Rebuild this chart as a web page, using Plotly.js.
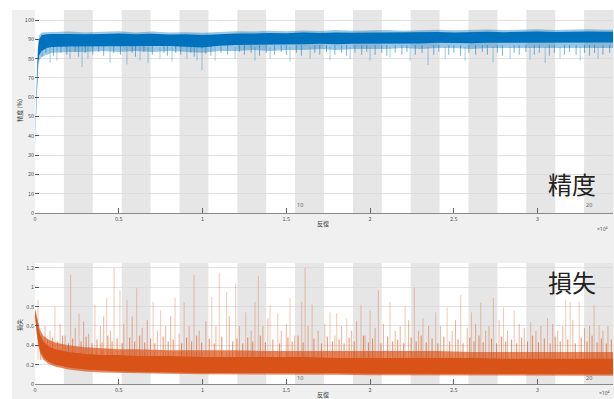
<!DOCTYPE html>
<html>
<head>
<meta charset="utf-8">
<script src="https://cdn.plot.ly/plotly-3.0.1.min.js"></script>
<style>html,body{margin:0;padding:0;background:#fff;width:614px;height:399px;overflow:hidden;}
#chart{position:absolute;left:12px;top:10px;width:602px;height:389px;}</style>
</head>
<body>
<div id="chart"></div>
<script>
// ---- data ----
const numEpochs = 20;
const itersPerEpoch = 1725;
const xTickVals = [0, 5000, 10000, 15000, 20000, 25000, 30000];
const xTickText = ['0', '0.5', '1', '1.5', '2', '2.5', '3'];
const epochLabels = [10, 20];

// accuracy (%) envelopes
const accIt     = [0, 60, 120, 180, 250, 400, 700, 1000, 2000, 3000, 4000, 5000, 6000, 7000, 8000, 9000, 10000, 11000, 12000, 13000, 14000, 15000, 16000, 17000, 18000, 19000, 20000, 21000, 22000, 23000, 24000, 25000, 26000, 27000, 28000, 29000, 30000, 31000, 32000, 33000, 34000, 34500];
const accOuterHi= [36, 60, 78, 88, 92, 93.5, 93.5, 93.8, 94, 93.6, 93.9, 94.2, 93.6, 94, 93.5, 93.7, 93.4, 93.8, 94.2, 94, 94.5, 94.2, 94.6, 94.3, 94.8, 94.5, 94.6, 94.9, 94.5, 94.8, 95, 94.7, 94.9, 95.1, 94.8, 95, 95.2, 94.9, 95.1, 95.2, 95, 95];
const accOuterLo= [35, 48, 64, 74, 79, 81, 82, 83, 83.5, 83.5, 84, 83.5, 84, 83.5, 84, 83.5, 83, 84, 84, 84.5, 84, 84.5, 84.5, 85, 84.5, 85, 85, 85, 85.5, 85, 85.5, 85.5, 85, 85.5, 85.5, 85.5, 85.5, 85.5, 85.5, 85.5, 85.5, 85.5];
const accCoreHi = [35.5, 57, 74, 85, 90, 92.3, 92.6, 92.8, 92.8, 92.6, 92.8, 93, 92.6, 92.9, 92.5, 92.6, 92.3, 92.8, 93, 93, 93.3, 93.1, 93.5, 93.3, 93.6, 93.4, 93.5, 93.7, 93.5, 93.7, 93.8, 93.6, 93.8, 93.9, 93.7, 93.9, 94, 93.8, 94, 94.1, 93.9, 93.9];
const accCoreLo = [35, 50, 66, 77, 82, 84, 85.5, 86, 86.3, 86.3, 86.5, 86.5, 86.5, 86.5, 86.5, 86.2, 85.8, 86.7, 87, 87.2, 87.2, 87.4, 87.4, 87.7, 87.5, 87.7, 87.7, 87.9, 87.9, 87.9, 88.2, 88.2, 88, 88.2, 88.2, 88.2, 88.4, 88.2, 88.4, 88.4, 88.4, 88.4];
const accDips = [[420,80.8],[900,77.7],[1310,79],[2090,80],[2810,75.6],[3160,80],[4480,77.7],[5490,77],[6270,79],[6750,77.7],[7460,80],[8180,78.5],[9070,80],[9670,79],[9970,74],[10750,79],[11940,80],[13130,79],[14030,80],[15220,78.5],[16420,80],[17610,79],[18810,80],[20000,79],[21190,80.5],[22390,79],[23460,76.7],[24480,80],[25670,79],[27340,78],[28360,80],[29550,79.5],[30450,77.7],[31340,80],[32540,79],[33610,80]];
const accShortDips = [[250,82],[650,83],[1100,81.5],[1550,83],[1900,82],[2400,83.5],[2600,81],[3000,83],[3450,82],[3800,83.5],[4100,81.5],[4700,83],[5100,82],[5800,83],[6000,81],[6500,83.5],[7000,82],[7700,83],[7900,81.5],[8400,83],[8700,82],[9300,83],[9500,81],[10200,82.5],[10500,81.5],[11100,83],[11500,82],[12200,83.5],[12500,82],[12900,83],[13400,81.5],[13800,83],[14300,82],[14700,83.5],[15000,82],[15600,83],[15900,81.5],[16700,83],[17000,82],[17400,83.5],[17900,82],[18300,83],[18600,81.5],[19100,83],[19500,82],[19800,83.5],[20300,82],[20700,83],[21000,81.5],[21500,83],[21900,82],[22200,83.5],[22700,82],[23100,83],[23800,82],[24100,83.5],[24700,82],[25000,83],[25400,81.5],[25900,83],[26300,82],[26700,83.5],[27000,82],[27600,83],[27900,81.5],[28600,83],[28900,82],[29300,83.5],[29800,82],[30100,83],[30700,81.5],[31000,83],[31600,82],[31900,83.5],[32300,82],[32800,83],[33100,81.5],[33400,83],[33900,82],[34300,83]];

// loss envelopes
const lossIt     = [0, 100, 200, 300, 500, 800, 1200, 2000, 3000, 4000, 5000, 6000, 8000, 10000, 12000, 14000, 16000, 18000, 20000, 22000, 24000, 26000, 28000, 30000, 32000, 34000, 34500];
const lossOuterHi= [0.78, 0.7, 0.62, 0.56, 0.5, 0.46, 0.43, 0.4, 0.38, 0.37, 0.36, 0.36, 0.35, 0.35, 0.35, 0.34, 0.34, 0.34, 0.34, 0.34, 0.34, 0.33, 0.33, 0.33, 0.33, 0.33, 0.33];
const lossOuterLo= [0.7, 0.52, 0.4, 0.32, 0.25, 0.21, 0.18, 0.15, 0.13, 0.12, 0.115, 0.11, 0.105, 0.1, 0.1, 0.095, 0.095, 0.095, 0.09, 0.09, 0.09, 0.09, 0.085, 0.085, 0.085, 0.085, 0.085];
const lossCoreHi = [0.76, 0.66, 0.58, 0.51, 0.44, 0.39, 0.36, 0.33, 0.31, 0.3, 0.3, 0.29, 0.29, 0.28, 0.28, 0.28, 0.28, 0.27, 0.27, 0.27, 0.27, 0.27, 0.26, 0.26, 0.26, 0.26, 0.26];
const lossCoreLo = [0.72, 0.55, 0.43, 0.35, 0.28, 0.23, 0.2, 0.17, 0.15, 0.14, 0.13, 0.125, 0.12, 0.115, 0.115, 0.11, 0.11, 0.11, 0.105, 0.105, 0.105, 0.1, 0.1, 0.1, 0.1, 0.1, 0.1];
const tallSpikes = [[180,0.87],[1190,0.80],[2130,1.13],[2630,0.73],[3580,0.82],[4280,0.89],[4720,1.2],[5070,0.97],[5490,0.87],[6070,0.99],[7050,0.85],[7500,0.76],[8360,0.89],[8900,0.84],[9490,1.13],[10550,0.90],[11000,1.15],[11440,0.95],[11980,1.04],[12580,0.74],[13130,0.85],[13330,1.12],[14030,0.82],[14490,0.73],[15220,0.89],[15920,0.85],[16120,1.2],[16540,0.82],[17610,0.74],[18010,0.73],[18610,0.68],[19460,0.82],[20000,0.76],[20500,0.97],[21190,0.85],[22090,0.80],[22640,1.0],[23160,0.68],[23920,0.74],[24600,0.79],[25410,0.92],[26050,0.74],[26610,0.84],[27360,0.89],[27960,0.79],[28600,0.76],[29590,0.64],[30590,0.68],[31680,0.87],[31940,0.85],[32480,0.85],[33370,0.82],[33670,0.61]];
const midSpikes = [[600,0.6],[900,0.55],[1500,0.62],[1800,0.5],[2400,0.58],[2900,0.65],[3200,0.52],[3900,0.6],[4100,0.7],[4500,0.55],[5300,0.62],[5800,0.7],[6400,0.58],[6700,0.66],[7300,0.55],[7800,0.6],[8100,0.7],[8600,0.52],[9200,0.6],[9800,0.55],[10200,0.65],[10800,0.6],[11600,0.7],[12200,0.6],[12900,0.55],[13600,0.6],[13900,0.68],[14700,0.55],[15000,0.62],[15500,0.5],[16300,0.6],[16900,0.55],[17300,0.62],[17900,0.5],[18300,0.6],[18900,0.55],[19200,0.65],[19700,0.5],[20300,0.58],[20800,0.62],[21500,0.55],[21800,0.6],[22300,0.66],[22900,0.55],[23500,0.6],[24200,0.6],[24900,0.55],[25100,0.66],[25800,0.58],[26300,0.62],[26900,0.55],[27100,0.6],[27700,0.66],[28200,0.55],[28900,0.62],[29200,0.58],[29900,0.55],[30200,0.6],[30900,0.62],[31200,0.55],[31500,0.6],[32100,0.66],[32800,0.58],[33100,0.6],[33900,0.55],[34200,0.6]];
const smallSpikes = [[350,0.5],[750,0.46],[1050,0.48],[1350,0.44],[1650,0.5],[2000,0.42],[2250,0.47],[2750,0.44],[3050,0.49],[3400,0.42],[3700,0.46],[4000,0.43],[4350,0.5],[4600,0.44],[4900,0.47],[5200,0.42],[5650,0.48],[5950,0.44],[6250,0.5],[6550,0.43],[6900,0.47],[7150,0.42],[7650,0.49],[7950,0.44],[8250,0.46],[8750,0.42],[9050,0.48],[9350,0.44],[9650,0.5],[9950,0.43],[10400,0.47],[10700,0.42],[11150,0.49],[11800,0.44],[12050,0.47],[12400,0.42],[12700,0.48],[13000,0.44],[13450,0.5],[13750,0.43],[14200,0.46],[14600,0.42],[15100,0.48],[15350,0.44],[15700,0.5],[16000,0.43],[16650,0.47],[17100,0.42],[17450,0.49],[17750,0.44],[18150,0.46],[18450,0.42],[18750,0.48],[19050,0.44],[19600,0.5],[19900,0.43],[20150,0.47],[20650,0.42],[21050,0.49],[21350,0.44],[21650,0.46],[22000,0.42],[22450,0.48],[22750,0.44],[23050,0.5],[23350,0.43],[23700,0.47],[24050,0.42],[24400,0.49],[24750,0.44],[25250,0.46],[25550,0.42],[25950,0.48],[26200,0.44],[26500,0.5],[26750,0.43],[27250,0.47],[27550,0.42],[27850,0.49],[28100,0.44],[28450,0.46],[28750,0.42],[29050,0.48],[29400,0.44],[29700,0.5],[30050,0.43],[30400,0.47],[30750,0.42],[31050,0.49],[31350,0.44],[31800,0.46],[32250,0.42],[32600,0.48],[32950,0.44],[33250,0.5],[33550,0.43],[33800,0.47],[34100,0.42],[34400,0.46]];

// ---- build ----
const BLUE = '#0072BD', ORANGE = '#D95319';
function band(xs, hi, lo, color, xa, ya) {
  return {x: xs.concat(xs.slice().reverse()), y: hi.concat(lo.slice().reverse()),
    fill: 'toself', fillcolor: color, mode: 'lines', line: {width: 0}, xaxis: xa, yaxis: ya, hoverinfo: 'skip', showlegend: false};
}
function spikes(pairs, base, color, w, xa, ya) {
  const X = [], Y = [];
  pairs.forEach(p => { X.push(p[0], p[0], null); Y.push(base, p[1], null); });
  return {x: X, y: Y, mode: 'lines', line: {color: color, width: w}, xaxis: xa, yaxis: ya, hoverinfo: 'skip', showlegend: false, connectgaps: false};
}
const traces = [
  band(accIt, accOuterHi, accOuterLo, 'rgba(0,114,189,0.4)', 'x', 'y'),
  spikes(accDips, 86, 'rgba(0,114,189,0.45)', 0.8, 'x', 'y'),
  spikes(accShortDips, 87, 'rgba(0,114,189,0.6)', 0.9, 'x', 'y'),
  band(accIt, accCoreHi, accCoreLo, BLUE, 'x', 'y'),
  spikes(tallSpikes, 0.25, 'rgba(217,83,25,0.4)', 0.8, 'x2', 'y2'),
  spikes(midSpikes, 0.25, 'rgba(217,83,25,0.55)', 0.8, 'x2', 'y2'),
  spikes(smallSpikes, 0.25, 'rgba(217,83,25,0.75)', 0.9, 'x2', 'y2'),
  band(lossIt, lossOuterHi, lossOuterLo, 'rgba(217,83,25,0.7)', 'x2', 'y2'),
  band(lossIt, lossCoreHi, lossCoreLo, ORANGE, 'x2', 'y2')
];

const shapes = [];
for (let e = 1; e < numEpochs; e += 2) {
  ['', '2'].forEach(s => shapes.push({type: 'rect', xref: 'x' + s, yref: 'y' + s + ' domain',
    x0: e * itersPerEpoch, x1: (e + 1) * itersPerEpoch, y0: 0, y1: 1,
    fillcolor: '#e6e6e6', line: {width: 0}, layer: 'below'}));
}

// plot area: 578 x 374 px, paper coordinates relative to it
const tickFont = {family: 'Noto Sans CJK JP, Noto Sans, sans-serif', size: 5.5, color: '#555'};
const txt = (text, x, y, extra) => Object.assign({text: text, x: x, y: y, xref: 'paper', yref: 'paper', showarrow: false,
  xanchor: 'center', yanchor: 'middle',
  font: {family: 'Noto Sans CJK JP, sans-serif', size: 6, color: '#444'}}, extra || {});
const annotations = [
  txt('反復', 0.498, 0.428),
  txt('反復', 0.498, -0.027),
  txt('精度 (%)', -0.026, 0.733, {textangle: -90}),
  txt('損失', -0.026, 0.158, {textangle: -90}),
  txt('×10<sup>4</sup>', 0.982, 0.417, {font: {family: 'Noto Sans, sans-serif', size: 5, color: '#555'}}),
  txt('×10<sup>4</sup>', 0.986, -0.024, {font: {family: 'Noto Sans, sans-serif', size: 5, color: '#555'}}),
  txt('精度', 0.929, 0.535, {font: {family: 'Noto Sans CJK JP, sans-serif', size: 24, color: '#222'}}),
  txt('損失', 0.929, 0.275, {font: {family: 'Noto Sans CJK JP, sans-serif', size: 24, color: '#222'}})
];
epochLabels.forEach(ep => {
  annotations.push({text: String(ep), x: (ep - 1) * itersPerEpoch, y: 4.2, xref: 'x', yref: 'y', xanchor: 'left', yanchor: 'middle',
    showarrow: false, font: {family: 'Noto Sans, sans-serif', size: 5.5, color: '#666666'}});
  annotations.push({text: String(ep), x: (ep - 1) * itersPerEpoch, y: 0.06, xref: 'x2', yref: 'y2', xanchor: 'left', yanchor: 'middle',
    showarrow: false, font: {family: 'Noto Sans, sans-serif', size: 5.5, color: '#666666'}});
});

const xCommon = {range: [0, numEpochs * itersPerEpoch], tickvals: xTickVals, ticktext: xTickText, ticks: 'inside', ticklen: 5,
  tickcolor: '#666', tickwidth: 1, showgrid: false, zeroline: false, showline: true, linecolor: '#8a8a8a', linewidth: 1.3,
  tickfont: tickFont, fixedrange: true};
const yCommon = {ticks: 'inside', ticklen: 4, tickcolor: '#555', tickwidth: 1, showgrid: true, gridcolor: '#dadada', gridwidth: 0.8,
  zeroline: false, showline: false, tickfont: tickFont, fixedrange: true};

const layout = {
  width: 602, height: 389,
  margin: {l: 23, r: 1, t: 0, b: 15},
  paper_bgcolor: '#f0f0f0', plot_bgcolor: '#ffffff',
  showlegend: false,
  xaxis: Object.assign({}, xCommon, {anchor: 'y', domain: [0, 1]}),
  yaxis: Object.assign({}, yCommon, {domain: [0.4572, 1], range: [0, 105.2], tickvals: [0,10,20,30,40,50,60,70,80,90,100], anchor: 'x'}),
  xaxis2: Object.assign({}, xCommon, {anchor: 'y2', domain: [0, 1]}),
  yaxis2: Object.assign({}, yCommon, {domain: [0, 0.3235], range: [0, 1.251], tickvals: [0,0.2,0.4,0.6,0.8,1,1.2], anchor: 'x2'}),
  shapes: shapes,
  annotations: annotations
};
Plotly.newPlot('chart', traces, layout, {displayModeBar: false, staticPlot: true});
</script>
</body>
</html>
